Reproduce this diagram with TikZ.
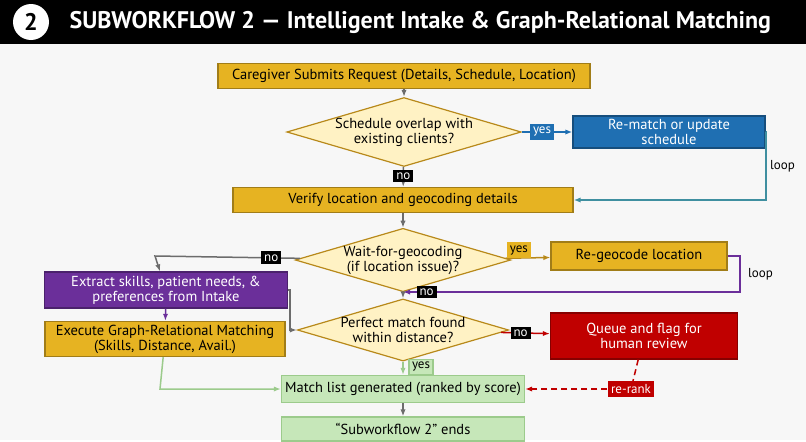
\documentclass[tikz,border=0pt]{standalone}
\usepackage{fontspec}
\setmainfont{PT Sans}
\usetikzlibrary{shapes.geometric,arrows.meta}
\definecolor{gold}{HTML}{E6B322}
\definecolor{golddk}{HTML}{B8891A}
\definecolor{dia}{HTML}{FFF2C4}
\definecolor{blu}{HTML}{1F6FB2}
\definecolor{pur}{HTML}{6B2F9A}
\definecolor{redd}{HTML}{C00000}
\definecolor{grn}{HTML}{C6E7B9}
\definecolor{grndk}{HTML}{9CCB8C}
\definecolor{teal}{HTML}{3F8FA0}
\tikzset{
  box/.style={draw=#1!70!black, fill=#1, minimum height=25pt, align=center, font=\fontsize{14.5}{15}\selectfont, line width=1.2pt},
  dec/.style={diamond, aspect=3.4, draw=golddk, fill=dia, line width=1.2pt, align=center, inner sep=0pt, font=\fontsize{14.5}{15}\selectfont},
  tag/.style={fill=#1, text=white, inner sep=3pt, font=\fontsize{13}{13}\selectfont},
  arr/.style={-{Latex[length=7pt]}, line width=1.5pt, draw=gray!85!black},
  dsh/.style={dash pattern=on 6pt off 4pt},
}
\begin{document}
\begin{tikzpicture}[x=1pt,y=-1pt]
\fill[gray!6] (0,0) rectangle (806,440);
\fill[black] (0,0) rectangle (806,44);
\node[circle, fill=white, minimum size=36pt, font=\fontsize{24}{24}\selectfont\bfseries] (num) at (31,22) {2};
\node[anchor=west, text=white, font=\fontsize{24}{24}\selectfont\bfseries] (title) at (66,22) {SUBWORKFLOW 2 — Intelligent Intake \& Graph-Relational Matching};

\node[box=gold, minimum width=372pt] (req) at (404,76) {Caregiver Submits Request (Details, Schedule, Location)};
\node[dec] (d1) at (404,132) {Schedule overlap with\\existing clients?};
\node[box=blu, text=white, minimum width=192pt, minimum height=32pt] (remat) at (669,132) {Re-match or update\\schedule};
\node[box=gold, minimum width=340pt] (verify) at (403,200) {Verify location and geocoding details};
\node[dec] (d2) at (403,260) {Wait-for-geocoding\\(if location issue)?};
\node[box=gold, minimum width=176pt, minimum height=28pt] (regeo) at (639,256) {Re-geocode location};
\node[box=pur, text=white, minimum width=243pt, minimum height=36pt] (extract) at (166,290) {Extract skills, patient needs, \&\\preferences from Intake};
\node[dec] (d3) at (403,330) {Perfect match found\\within distance?};
\node[box=gold, minimum width=240pt, minimum height=34pt] (exec) at (165,339) {Execute Graph-Relational Matching\\(Skills, Distance, Avail.)};
\node[box=redd, text=white, minimum width=187pt, minimum height=46pt] (queue) at (644,336) {Queue and flag for\\human review};
\node[box=grn, draw=grndk, minimum width=243pt, minimum height=27pt] (match) at (403,389) {Match list generated (ranked by score)};
\node[box=grn, draw=grndk, minimum width=243pt, minimum height=24pt] (end) at (403,429) {“Subworkflow 2” ends};

\coordinate (c1) at (766,200);
\coordinate (c2) at (740,292);
\coordinate (c3) at (155,256);
\coordinate (c4) at (290,330);
\coordinate (c5) at (160,389);
\coordinate (c6) at (631,389);

\draw[arr] (req) -- (d1);
\draw[arr] (d1) -- (verify) node[tag=black, pos=0.45] (no1) {no};
\draw[arr, blu] (d1) -- (remat) node[tag=blu, pos=0.4] (yes1) {yes};
\draw[arr, teal] (remat.east) -| (c1) node[pos=0.75, right, text=black, font=\fontsize{13}{13}\selectfont] (lp1) {loop} -- (verify.east);
\draw[arr] (verify) -- (d2);
\draw[arr, golddk] (d2) -- (regeo) node[tag=gold, text=black, pos=0.3, yshift=8pt] (yes2) {yes};
\draw[arr, pur] (regeo.east) -| (c2) node[pos=0.75, right, xshift=4pt, text=black, font=\fontsize{13}{13}\selectfont] (lp2) {loop} -- (403,292) node[tag=black, pos=0.93] (no3) {no};
\draw[arr] (d2) -- (c3) node[tag=black, pos=0.2] (no2) {no} -- (extract);
\draw[arr, pur] (extract) -- (exec);
\draw[arr] (extract.east) -| (c4) -- (d3);
\draw[arr] (d2) -- (d3);
\draw[arr, redd] (d3) -- (queue) node[tag=black, pos=0.4] (no4) {no};
\draw[arr, grndk] (d3) -- (match) node[tag=grn, draw=grndk, text=black, pos=0.4, xshift=18pt] (yes3) {yes};
\draw[arr, grndk] (exec) -- (c5) -- (match);
\draw[line width=1.5pt, dsh, redd] (queue) -- (c6) node[tag=redd] (rerank) {re-rank};
\draw[arr, dsh, redd] (rerank) -- (match);
\draw[arr] (match) -- (end);
\end{tikzpicture}
\end{document}
